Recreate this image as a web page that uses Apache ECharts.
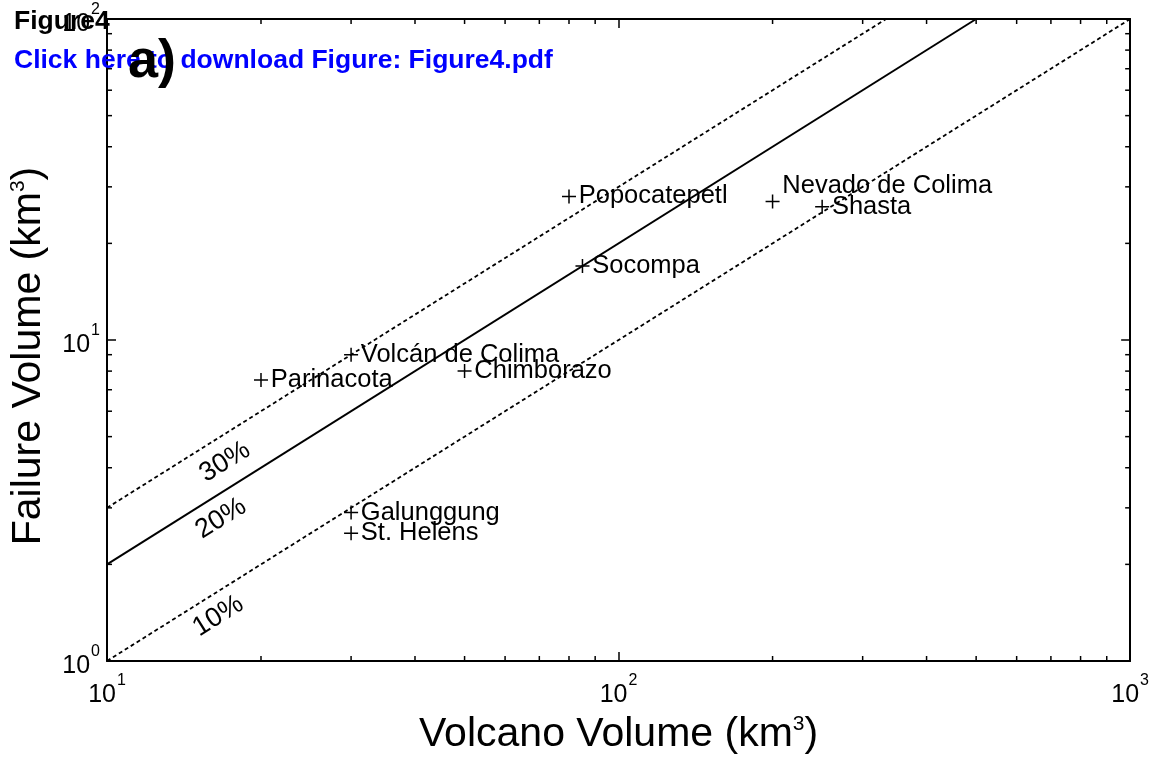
<!DOCTYPE html>
<html><head><meta charset="utf-8">
<script src="https://cdn.jsdelivr.net/npm/echarts@6/dist/echarts.min.js"></script>
<style>html,body{margin:0;padding:0;background:#fff}#c{width:1152px;height:760px}</style>
</head><body><div id="c"></div>
<script>
// ---- data ----
const volcanoNames = ['Popocatepetl','Nevado de Colima','Shasta','Socompa','Volcán de Colima','Parinacota','Chimborazo','Galunggung','St. Helens'];
const volcanoVolume = [80, 200, 250, 85, 30, 20, 50, 30, 30];
const failureVolume = [28, 27, 26, 17, 9, 7.5, 8, 2.9, 2.5];
const ratioLabels = ['30%', '20%', '10%'];
const ratioLabelX = [17, 16.7, 16.5];
const ratioLabelY = [4.17, 2.78, 1.38];
const line10 = [[10, 1], [1000, 100]];
const line20 = [[10, 2], [500, 100]];
const line30 = [[10, 3], [333.33, 100]];
const xMinorTicks = [20,30,40,50,60,70,80,90,200,300,400,500,600,700,800,900];
const yMinorTicks = [2,3,4,5,6,7,8,9,20,30,40,50,60,70,80,90];

const FONT = "'Liberation Sans', Arial, Helvetica, sans-serif";
const chart = echarts.init(document.getElementById('c'), null, {renderer: 'canvas'});

const tickRich = {
  b: {fontSize: 25, fontFamily: FONT, color: '#000', padding: [10, 0, 0, 0]},
  s: {fontSize: 16, fontFamily: FONT, color: '#000', verticalAlign: 'top', padding: [0, 0, 0, 1]}
};
const powFmt = v => '{b|10}{s|' + Math.round(Math.log10(v)) + '}';
const nameRich = {
  n: {fontSize: 41, fontFamily: FONT, color: '#000'},
  u: {fontSize: 21, fontFamily: FONT, color: '#000', verticalAlign: 'top'}
};
const axisLineStyle = {color: '#000', width: 2};
const tickStyle = {color: '#000', width: 1.5};

function baseAxis(extra) {
  return Object.assign({
    type: 'log', logBase: 10,
    axisLine: {show: true, onZero: false, lineStyle: axisLineStyle},
    axisTick: {show: true, inside: true, length: 9, lineStyle: tickStyle},
    splitLine: {show: false},
    minorTick: {show: false}
  }, extra);
}

function minorTickSeries(values, isX) {
  return {
    type: 'custom', silent: true, clip: false, z: 10,
    xAxisIndex: 0, yAxisIndex: 0,
    data: values.map(v => isX ? [v, 1] : [10, v]),
    encode: {x: 0, y: 1},
    renderItem: (params, api) => {
      const st = {stroke: '#000', lineWidth: 1.5};
      if (isX) {
        const v = api.value(0);
        const b = api.coord([v, 1]), t = api.coord([v, 100]);
        return {type: 'group', children: [
          {type: 'line', shape: {x1: b[0], y1: b[1], x2: b[0], y2: b[1] - 5}, style: st},
          {type: 'line', shape: {x1: t[0], y1: t[1], x2: t[0], y2: t[1] + 5}, style: st}
        ]};
      } else {
        const v = api.value(1);
        const l = api.coord([10, v]), r = api.coord([1000, v]);
        return {type: 'group', children: [
          {type: 'line', shape: {x1: l[0], y1: l[1], x2: l[0] + 5, y2: l[1]}, style: st},
          {type: 'line', shape: {x1: r[0], y1: r[1], x2: r[0] - 5, y2: r[1]}, style: st}
        ]};
      }
    }
  };
}

function refLine(data, dashed) {
  return {
    type: 'line', data: data, symbol: 'none', showSymbol: false, silent: true,
    lineStyle: {color: '#000', width: dashed ? 1.8 : 2, type: dashed ? [4, 3] : 'solid'}, z: 3
  };
}

const option = {
  animation: false,
  backgroundColor: '#fff',
  textStyle: {fontFamily: FONT},
  grid: {left: 105, right: 20, top: 19, bottom: 97, containLabel: false},
  xAxis: [
    baseAxis({min: 10, max: 1000, position: 'bottom',
      axisLabel: {margin: 12, formatter: powFmt, rich: tickRich},
      name: '{n|Volcano Volume (km}{u|3}{n|)}', nameLocation: 'middle', nameGap: 53,
      nameTextStyle: {rich: nameRich}}),
    baseAxis({min: 10, max: 1000, position: 'top', axisLabel: {show: false}})
  ],
  yAxis: [
    baseAxis({min: 1, max: 100, position: 'left',
      axisLabel: {margin: 7, formatter: powFmt, rich: tickRich},
      name: '{n|Failure Volume (km}{u|3}{n|)}', nameLocation: 'middle', nameGap: 58,
      nameTextStyle: {rich: nameRich, padding: [0, 32, 0, 0]}}),
    baseAxis({min: 1, max: 100, position: 'right', axisLabel: {show: false}})
  ],
  graphic: [
    {type: 'text', left: 14, top: 8, z: 100, style: {text: 'Figure4', font: "bold 26.5px 'Liberation Sans', Arial, sans-serif", fill: '#000'}},
    {type: 'text', left: 14, top: 47, z: 100, style: {text: 'Click here to download Figure: Figure4.pdf', font: "bold 26.5px 'Liberation Sans', Arial, sans-serif", fill: '#0000ff'}},
    {type: 'text', left: 128, top: 35, z: 101, style: {text: 'a)', font: "bold 54px 'Liberation Sans', Arial, sans-serif", fill: '#000'}}
  ],
  series: [
    refLine(line10, true),
    refLine(line20, false),
    refLine(line30, true),
    minorTickSeries(xMinorTicks, true),
    minorTickSeries(yMinorTicks, false),
    {
      type: 'scatter', silent: true, z: 5,
      symbol: 'path://M0,7L14,7M7,0L7,14', symbolSize: 14,
      itemStyle: {color: 'rgba(0,0,0,0)', borderColor: '#000', borderWidth: 1.5, opacity: 1},
      label: {show: true, position: 'right', distance: 2, formatter: '{b}', fontSize: 25.5, fontFamily: FONT, color: '#000'},
      data: volcanoNames.map((n, i) => {
        const d = {name: n, value: [volcanoVolume[i], failureVolume[i]]};
        if (n === 'Nevado de Colima') d.label = {offset: [0, -16]};
        return d;
      })
    },
    {
      type: 'custom', silent: true, z: 6, clip: false,
      xAxisIndex: 0, yAxisIndex: 0,
      data: ratioLabels.map((t, i) => [ratioLabelX[i], ratioLabelY[i], t]),
      encode: {x: 0, y: 1},
      renderItem: (params, api) => {
        const p = api.coord([api.value(0), api.value(1)]);
        return {
          type: 'text', x: p[0], y: p[1], rotation: 32 * Math.PI / 180,
          style: {text: ratioLabels[params.dataIndex], fill: '#000', font: "27px 'Liberation Sans', Arial, sans-serif",
                  align: 'center', verticalAlign: 'middle'}
        };
      }
    }
  ]
};
chart.setOption(option);
</script>
</body></html>
